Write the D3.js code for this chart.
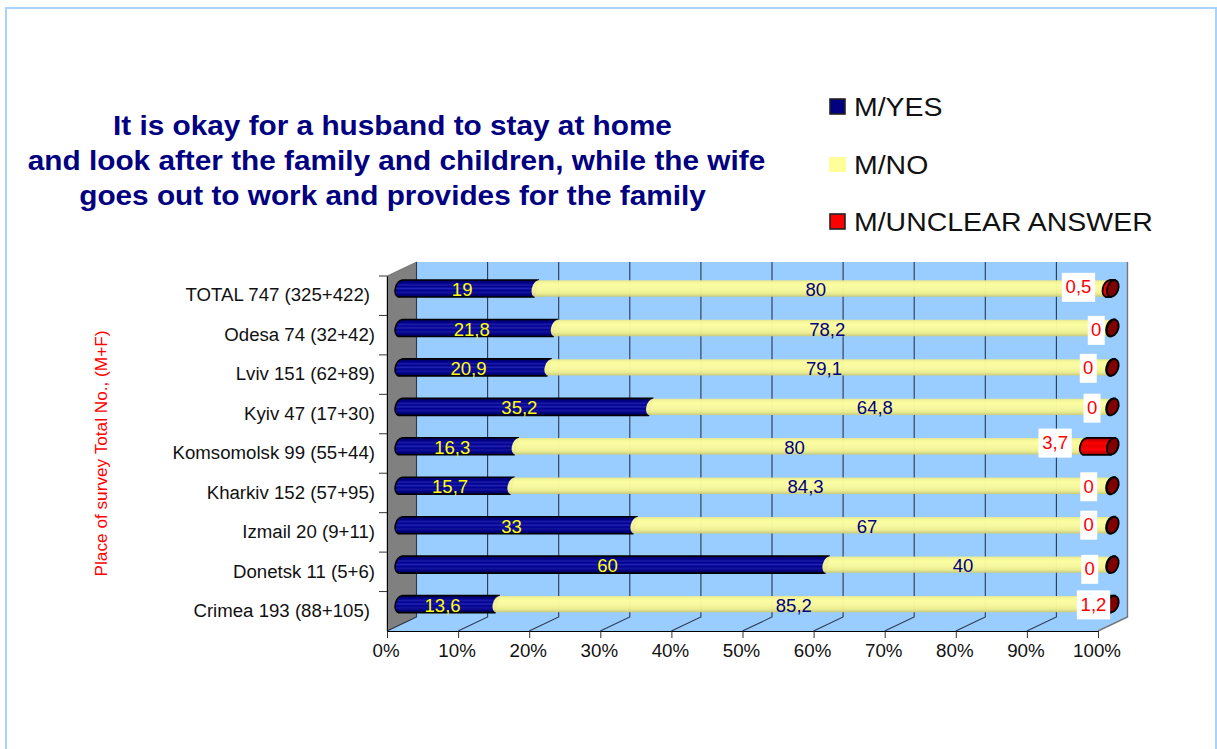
<!DOCTYPE html>
<html><head><meta charset="utf-8">
<script src="https://cdn.jsdelivr.net/npm/d3@7"></script>
<style>html,body{margin:0;padding:0;background:#fff}svg{display:block}text{font-family:"Liberation Sans",Arial,sans-serif}</style>
</head><body><svg id="c" width="1217" height="749"></svg>
<script>
const categories = ["TOTAL 747 (325+422)","Odesa 74 (32+42)","Lviv 151 (62+89)","Kyiv 47 (17+30)","Komsomolsk 99 (55+44)","Kharkiv 152 (57+95)","Izmail 20 (9+11)","Donetsk 11 (5+6)","Crimea 193 (88+105)"];
const yesValues = [19,21.8,20.9,35.2,16.3,15.7,33,60,13.6];
const noValues = [80,78.2,79.1,64.8,80,84.3,67,40,85.2];
const unclearValues = [0.5,0,0,0,3.7,0,0,0,1.2];
const seriesNames = ["M/YES","M/NO","M/UNCLEAR ANSWER"];
const titleLines = ["It is okay for a husband to stay at home","and look after the family and children, while the wife","goes out to work and provides for the family"];
const yAxisTitle = "Place of survey Total No., (M+F)";
const xTicks = [0,10,20,30,40,50,60,70,80,90,100];

const svg = d3.select("#c");
const W=1217,H=749;
const pLeft=387,pRight=1098,pTop=276,pBottom=631,dx=29.5,dy=-14;
const x=d3.scaleLinear().domain([0,100]).range([pLeft,pRight]);
const y=d3.scaleBand().domain(categories).range([pTop,pBottom]);
const rows=categories.map((c,i)=>({c,yes:yesValues[i],no:noValues[i],unclear:unclearValues[i]}));
const keys=["yes","no","unclear"];
const stack=d3.stack().keys(keys).offset(d3.stackOffsetExpand)(rows);
const raw={yes:yesValues,no:noValues,unclear:unclearValues};

// the source text is slightly wider than Liberation Sans at the same height
function stretch(sel,r){sel.each(function(){this.setAttribute("textLength",this.getComputedTextLength()*r);this.setAttribute("lengthAdjust","spacingAndGlyphs");});return sel;}

// page frame
svg.append("path").attr("d",`M6 ${H}V8H1216V${H}`).attr("fill","none").attr("stroke","#a9d3ff").attr("stroke-width",2);

// gradients
const defs=svg.append("defs");
function grad(id,stops){const g=defs.append("linearGradient").attr("id",id).attr("x1",0).attr("x2",0).attr("y1",0).attr("y2",1);
 stops.forEach(([o,c])=>g.append("stop").attr("offset",o).attr("stop-color",c));}
grad("g0",[[0,"#000060"],[.18,"#00008a"],[.3,"#1c1ca8"],[.38,"#000090"],[.5,"#2222b0"],[.6,"#000090"],[.72,"#14149c"],[.86,"#000080"],[1,"#000050"]]);
grad("g1",[[0,"#e6e68c"],[.12,"#f8f898"],[.3,"#ffff9c"],[.45,"#fbfba0"],[.62,"#f8f898"],[.8,"#eeee90"],[1,"#cccc78"]]);
grad("g2",[[0,"#a00000"],[.3,"#ff0000"],[.5,"#e80000"],[.7,"#ff0000"],[1,"#a00000"]]);

// plot box
const box=svg.append("g");
box.append("rect").attr("x",pLeft+dx).attr("y",pTop+dy).attr("width",pRight-pLeft).attr("height",pBottom-pTop).attr("fill","#99ccff");
box.append("path").attr("d",`M${pLeft} ${pBottom}H${pRight}l${dx} ${dy}H${pLeft+dx}Z`).attr("fill","#99ccff");
box.append("path").attr("d",`M${pLeft} ${pTop}l${dx} ${dy}V${pBottom+dy}l${-dx} ${-dy}Z`).attr("fill","#808080").attr("stroke","#555").attr("stroke-width",.6);
box.selectAll("path.grid").data(xTicks.slice(0,-1)).join("path").attr("class","grid")
  .attr("d",d=>`M${x(d)} ${pBottom}l${dx} ${dy}V${pTop+dy}`).attr("fill","none").attr("stroke","#2b3a4a").attr("stroke-width",1.1);
box.append("path").attr("d",`M${pRight} ${pBottom}l${dx} ${dy}V${pTop+dy}`).attr("fill","none").attr("stroke","#777").attr("stroke-width",1.4);

// axes
const ax=svg.append("g").attr("transform",`translate(0,${pBottom})`).call(d3.axisBottom(x).tickValues(xTicks).tickFormat(d=>d+"%").tickSize(7).tickSizeOuter(0));
ax.select(".domain").attr("stroke","#000");
ax.selectAll("line").attr("stroke","#333");
stretch(ax.selectAll("text").attr("font-size",17.5).attr("fill","#111").attr("dy",0).attr("y",26).attr("dx",-1.5),1.07);
const ay=svg.append("g").attr("transform",`translate(${pLeft},0)`).call(d3.axisLeft(y).tickSize(0).tickPadding(12));
ay.select(".domain").attr("stroke","#000");
stretch(ay.selectAll("text").attr("font-size",18).attr("fill","#111").attr("dy","0.32em")
  .attr("x",(d,i)=>(i===0||i===categories.length-1)?-17:-12),1.035);
svg.selectAll("line.sep").data(d3.range(categories.length)).join("line").attr("class","sep")
  .attr("x1",pLeft-8).attr("x2",pLeft).attr("y1",i=>y(categories[i])).attr("y2",i=>y(categories[i])).attr("stroke","#333");

// cylinders
const rx=6,ry=9,rot=20,lean=2;
const cx=v=>x(v*100)+dx/2-1.5;
const cy=c=>y(c)+y.bandwidth()/2+dy/2-.2;
function body(a,b,yc,h){
 const k=lean;
 return `M${a+k} ${yc-h}L${b+k} ${yc-h}L${b-k} ${yc+h}L${a-k} ${yc+h}A${rx} ${ry} ${rot} 0 1 ${a+k} ${yc-h}Z`;
}
const barStyle=[{fill:"url(#g0)",stroke:"#000",sw:1.6,op:1},{fill:"url(#g1)",stroke:"none",sw:0,op:.97},{fill:"url(#g2)",stroke:"#000",sw:1.8,op:1}];
stack.forEach((s,si)=>{
 const g=svg.append("g");
 g.selectAll("path").data(s).join("path")
  .attr("d",d=>body(cx(d[0]),cx(d[1])+(si===2?1.5:0),cy(d.data.c),si===1?8.2:8.5))
  .attr("fill",barStyle[si].fill).attr("fill-opacity",barStyle[si].op).attr("stroke",barStyle[si].stroke).attr("stroke-width",barStyle[si].sw);
});
svg.append("g").selectAll("ellipse").data(stack[2]).join("ellipse")
  .attr("rx",5.5).attr("ry",8.6)
  .attr("transform",d=>`translate(${cx(d[1])+1.5},${cy(d.data.c)}) rotate(${rot})`)
  .attr("fill","#800000").attr("stroke","#000").attr("stroke-width",1.8);

// value labels
const fmt=v=>String(v).replace(".",",");
const seriesLabelColor=["#ffff00","#000080","#ff0000"];
// hand-placed offsets of the red labels in the source chart
const redNudge=[[-31,-1.2],[-15,2.4],[-23,.9],[-19.2,1.3],[-43,-3.2],[-22.5,1],[-22.5,0],[-21.5,4.7],[-13.5,.8]];
stack.forEach((s,si)=>{
 const g=svg.append("g");
 s.forEach((d,i)=>{
  const mx=(cx(d[0])+cx(d[1]))/2, yc=cy(d.data.c);
  const v=raw[keys[si]][i];
  const px=si===2?mx+redNudge[i][0]:mx-6, py=si===2?yc+redNudge[i][1]:yc+1.5;
  const t=g.append("text").attr("x",px).attr("y",py).attr("dy","0.35em").attr("text-anchor","middle").attr("font-size",17.5).attr("fill",seriesLabelColor[si]).text(fmt(v));
  stretch(t,1.06);
  if(si===2){const w=t.node().getComputedTextLength()*1.06;
   g.insert("rect",()=>t.node()).attr("x",px-w/2-3).attr("y",py-14.5).attr("width",w+6).attr("height",29).attr("fill","#fff");}
 });
});

// title
stretch(svg.append("g").selectAll("text").data(titleLines).join("text")
 .attr("x",(d,i)=>i===1?396.5:392.5).attr("y",(d,i)=>135+i*35).attr("text-anchor","middle").attr("font-size",28.5).attr("font-weight","bold").attr("fill","#000080").text(d=>d),1.044);

// legend
const legY=[107,165,222];
const lg=svg.append("g");
seriesNames.forEach((n,i)=>{
 lg.append("rect").attr("x",i===1?829:830).attr("y",legY[i]-8).attr("width",i===1?17:15).attr("height",15)
  .attr("fill",["#000080","#ffff99","#ff0000"][i]).attr("stroke",i===1?"none":"#222").attr("stroke-width",1.6);
 stretch(lg.append("text").attr("x",854).attr("y",legY[i]+9).attr("font-size",26).attr("fill","#111").text(n),1.094);
});

// y title
stretch(svg.append("text").attr("transform","translate(107,453.5) rotate(-90)").attr("text-anchor","middle").attr("font-size",17).attr("fill","#ff0000").text(yAxisTitle),1.012);
</script></body></html>
